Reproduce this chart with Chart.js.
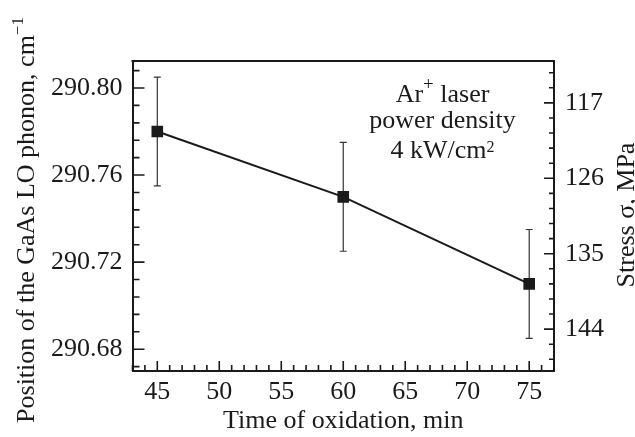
<!DOCTYPE html>
<html><head><meta charset="utf-8">
<script src="https://cdn.jsdelivr.net/npm/chart.js@4.4.1/dist/chart.umd.min.js"></script>
<style>html,body{margin:0;padding:0;background:#fff;}#wrap{width:635px;height:437px;position:relative;}</style>
</head><body><div id="wrap"><canvas id="c" width="635" height="437"></canvas></div>
<script>
// ---- data ----
const oxidationTimes = [45, 60, 75];
const phononPositions = [290.780, 290.750, 290.710];
const phononErrors = [0.025, 0.025, 0.025];
const xTickValues = [45, 50, 55, 60, 65, 70, 75];
const leftTickValues = [290.68, 290.72, 290.76, 290.80];
const rightTickValues = [117, 126, 135, 144];
const xTitle = 'Time of oxidation, min';
const leftTitle = [['Position of the GaAs LO phonon, cm', 0], ['−1', 1]];
const rightTitle = 'Stress σ, MPa';
const noteLines = [
  [['Ar', 0], ['+', 1], [' laser', 0]],
  [['power density', 0]],
  [['4 kW/cm', 0], ['2', 2]]
];

const FONT = "'Liberation Serif', 'Times New Roman', serif";
const INK = '#1a1a1a';

function runsWidth(ctx, runs, sizes) {
  let w = 0;
  runs.forEach(([t, k]) => { ctx.font = sizes[k].size + 'px ' + FONT; w += ctx.measureText(t).width; });
  return w;
}
function drawRuns(ctx, runs, cx, by, sizes) {
  const w = runsWidth(ctx, runs, sizes);
  let x = cx - w / 2;
  ctx.textAlign = 'left';
  ctx.textBaseline = 'alphabetic';
  runs.forEach(([t, k]) => {
    ctx.font = sizes[k].size + 'px ' + FONT;
    ctx.fillText(t, x, by + sizes[k].dy);
    x += ctx.measureText(t).width;
  });
}

const decor = {
  id: 'decor',
  beforeDatasetsDraw(chart) {
    const {ctx, scales: {x, y}} = chart;
    ctx.save();
    ctx.strokeStyle = '#333';
    ctx.lineWidth = 1.2;
    oxidationTimes.forEach((t, i) => {
      const px = x.getPixelForValue(t);
      const yt = y.getPixelForValue(phononPositions[i] + phononErrors[i]);
      const yb = y.getPixelForValue(phononPositions[i] - phononErrors[i]);
      ctx.beginPath();
      ctx.moveTo(px, yt); ctx.lineTo(px, yb);
      ctx.moveTo(px - 3.5, yt); ctx.lineTo(px + 3.5, yt);
      ctx.moveTo(px - 3.5, yb); ctx.lineTo(px + 3.5, yb);
      ctx.stroke();
    });
    ctx.restore();
  },
  afterDraw(chart) {
    const {ctx, chartArea: a, scales: {x, y, y2}} = chart;
    ctx.save();
    ctx.strokeStyle = INK;
    ctx.fillStyle = INK;
    // top frame line
    ctx.lineWidth = 2;
    ctx.beginPath(); ctx.moveTo(a.left - 1, a.top); ctx.lineTo(a.right + 1, a.top); ctx.stroke();
    // inward ticks
    ctx.lineWidth = 1.6;
    ctx.beginPath();
    for (let v = Math.ceil(x.min); v <= x.max; v += 1) {
      const px = x.getPixelForValue(v);
      const len = xTickValues.includes(v) ? 10 : 6;
      ctx.moveTo(px, a.bottom); ctx.lineTo(px, a.bottom - len);
    }
    const lStep = (leftTickValues[1] - leftTickValues[0]) / 5;
    for (let k = -10; k <= 40; k++) {
      const v = leftTickValues[0] + k * lStep;
      if (v < y.min || v > y.max) continue;
      const py = y.getPixelForValue(v);
      const len = (k % 5 === 0) ? 12 : 7;
      ctx.moveTo(a.left, py); ctx.lineTo(a.left + len, py);
    }
    const rStep = (rightTickValues[1] - rightTickValues[0]) / 5;
    for (let k = -10; k <= 40; k++) {
      const v = rightTickValues[0] + k * rStep;
      if (v < y2.min || v > y2.max) continue;
      const py = y2.getPixelForValue(v);
      const len = (k % 5 === 0) ? 10 : 5;
      ctx.moveTo(a.right, py); ctx.lineTo(a.right - len, py);
    }
    ctx.stroke();

    // left title (rotated, with superscript)
    ctx.save();
    ctx.translate(33.5, 220);
    ctx.rotate(-Math.PI / 2);
    drawRuns(ctx, leftTitle, 0, 0, [{size: 26, dy: 0}, {size: 17, dy: -10.5}]);
    ctx.restore();

    // right title
    ctx.save();
    ctx.translate(634, 215);
    ctx.rotate(-Math.PI / 2);
    ctx.font = '26px ' + FONT;
    ctx.textAlign = 'center';
    ctx.textBaseline = 'alphabetic';
    ctx.fillText(rightTitle, 0, 0);
    ctx.restore();

    // annotation
    const sizes = [{size: 26, dy: 0}, {size: 19, dy: -12}, {size: 16, dy: -6}];
    const baselines = [101.7, 127.7, 158.3];
    noteLines.forEach((runs, i) => drawRuns(ctx, runs, 442.5, baselines[i], sizes));
    ctx.restore();
  }
};

new Chart(document.getElementById('c'), {
  type: 'line',
  data: {
    datasets: [{
      data: oxidationTimes.map((t, i) => ({x: t, y: phononPositions[i]})),
      borderColor: INK,
      borderWidth: 2,
      pointStyle: 'rect',
      pointRadius: 8.2,
      pointBackgroundColor: INK,
      pointBorderColor: INK,
      pointBorderWidth: 0,
      tension: 0,
      xAxisID: 'x',
      yAxisID: 'y'
    }]
  },
  options: {
    responsive: false,
    animation: false,
    events: [],
    layout: {padding: {top: 61, left: 0, right: 0, bottom: 0}, autoPadding: false},
    plugins: {legend: {display: false}, tooltip: {enabled: false}},
    scales: {
      x: {
        type: 'linear', position: 'bottom', min: 43, max: 77,
        grid: {display: false, drawTicks: false},
        border: {display: true, color: INK, width: 2},
        ticks: {font: {family: FONT, size: 26}, color: INK, padding: 6, maxRotation: 0, autoSkip: false, callback: v => String(v)},
        afterBuildTicks: s => { s.ticks = xTickValues.map(v => ({value: v})); },
        afterFit: s => { s.height = 66; },
        title: {display: true, text: xTitle, font: {family: FONT, size: 26}, color: INK, padding: {top: 0, bottom: 0}}
      },
      y: {
        type: 'linear', position: 'left', min: 290.670, max: 290.8124,
        grid: {display: false, drawTicks: false},
        border: {display: true, color: INK, width: 2},
        ticks: {font: {family: FONT, size: 26}, color: INK, padding: 10, autoSkip: false, callback: v => Number(v).toFixed(2)},
        afterBuildTicks: s => { s.ticks = leftTickValues.map(v => ({value: v})); },
        afterFit: s => { s.width = 132.5; }
      },
      y2: {
        type: 'linear', position: 'right', reverse: true, min: 112, max: 149,
        grid: {display: false, drawTicks: false},
        border: {display: true, color: INK, width: 2},
        ticks: {font: {family: FONT, size: 26}, color: INK, padding: 11, autoSkip: false, callback: v => String(v)},
        afterBuildTicks: s => { s.ticks = rightTickValues.map(v => ({value: v})); },
        afterFit: s => { s.width = 81; }
      }
    }
  },
  plugins: [decor]
});
</script>
</body></html>
